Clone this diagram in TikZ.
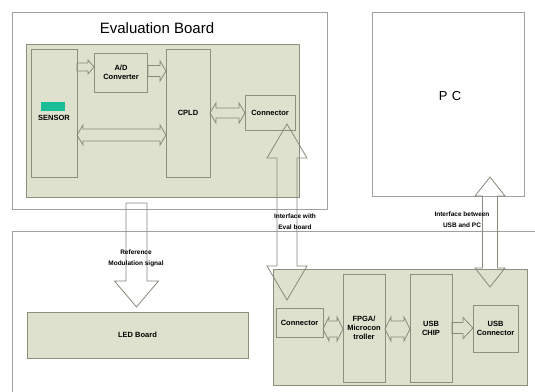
\documentclass[tikz,border=0pt]{standalone}
\usepackage{fontspec}
\setmainfont{Liberation Sans}
\usetikzlibrary{calc}
\definecolor{boardgreen}{RGB}{221,225,205}
\definecolor{boxline}{RGB}{140,143,122}
\definecolor{outerline}{RGB}{160,160,160}
\definecolor{arrowline}{RGB}{135,138,125}
\definecolor{teal}{RGB}{26,190,150}
\tikzset{
  outerbox/.style={draw=outerline, line width=0.8pt, fill=white},
  board/.style={draw=boxline, line width=0.8pt, fill=boardgreen},
  block/.style={draw=boxline, line width=0.9pt, fill=boardgreen, font=\fontsize{7.5}{9}\selectfont\bfseries, align=center},
  fat/.style={draw=arrowline, line width=0.8pt, line join=miter},
  lbl/.style={font=\fontsize{6.5}{8}\selectfont\bfseries, align=center, inner sep=0pt},
}
% horizontal double arrow: x1 x2 y shafthalf headhalf headlen
\newcommand\hdarrow[6]{\draw[fat] (#1,#3) -- (#1+#6,#3-#5) -- (#1+#6,#3-#4) -- (#2-#6,#3-#4) -- (#2-#6,#3-#5) -- (#2,#3) -- (#2-#6,#3+#5) -- (#2-#6,#3+#4) -- (#1+#6,#3+#4) -- (#1+#6,#3+#5) -- cycle;}
% horizontal single arrow (to the right)
\newcommand\hsarrow[6]{\draw[fat] (#1,#3-#4) -- (#2-#6,#3-#4) -- (#2-#6,#3-#5) -- (#2,#3) -- (#2-#6,#3+#5) -- (#2-#6,#3+#4) -- (#1,#3+#4) -- cycle;}
% vertical double arrow: x y1 y2 shafthalf headhalf headlen
\newcommand\vdarrow[6]{\draw[fat] (#1,#2) -- (#1+#5,#2+#6) -- (#1+#4,#2+#6) -- (#1+#4,#3-#6) -- (#1+#5,#3-#6) -- (#1,#3) -- (#1-#5,#3-#6) -- (#1-#4,#3-#6) -- (#1-#4,#2+#6) -- (#1-#5,#2+#6) -- cycle;}
% vertical single arrow (downwards)
\newcommand\vsarrow[6]{\draw[fat] (#1-#4,#2) -- (#1+#4,#2) -- (#1+#4,#3-#6) -- (#1+#5,#3-#6) -- (#1,#3) -- (#1-#5,#3-#6) -- (#1-#4,#3-#6) -- cycle;}
\begin{document}
\begin{tikzpicture}[x=1pt,y=-1pt]
\useasboundingbox (0,0) rectangle (535,391);
\fill[white] (0,0) rectangle (535,391);
% ---- outer frames
\draw[outerbox] (12,12) rectangle (327,209);
\node[font=\fontsize{15}{17}\selectfont] (evaltitle) at (157,28) {Evaluation Board};
\draw[outerbox] (372,12) rectangle (524,196);
\node[font=\fontsize{13}{15}\selectfont] (pc) at (450,96) {P\,\,C};
\draw[outerline, line width=0.8pt, fill=white] (12,395) -- (12,231) -- (540,231) -- (540,395) -- cycle;
% ---- evaluation board
\draw[board] (26,44) rectangle (299,197);
\draw[block] (31,49) rectangle (77,177);
\fill[teal] (41,102) rectangle (65,111);
\node[block, draw=none, fill=none, inner sep=0pt] (sensor) at (54,118) {SENSOR};
\node[block, minimum width=53pt, minimum height=39pt, inner sep=0pt] (adc) at (121,72.5) {A/D\\Converter};
\node[block, minimum width=44pt, minimum height=128pt, inner sep=0pt] (cpld) at (188,113) {CPLD};
\node[block, minimum width=50pt, minimum height=35pt, inner sep=0pt] (conn1) at (270,113) {Connector};
% eval arrows
\hsarrow{77}{94}{67}{4}{7}{6}
\hsarrow{148}{166}{71}{5.5}{10}{6}
\hdarrow{77}{166}{135}{6}{10}{6}
\hdarrow{210}{245}{113}{5}{10}{6}
% ---- lower board
\draw[board] (27,312) rectangle (248,358);
\node[block, draw=none, fill=none] (led) at (137.5,335) {LED Board};
\draw[board] (273,269) rectangle (527,385);
\node[block, minimum width=47pt, minimum height=29pt, inner sep=0pt] (conn2) at (299.5,322.5) {Connector};
\node[block, minimum width=42pt, minimum height=108pt, inner sep=0pt] (fpga) at (364,328) {FPGA/\\Microcon\\troller};
\node[block, minimum width=42pt, minimum height=108pt, inner sep=0pt] (usbchip) at (431,328) {USB\\CHIP};
\node[block, minimum width=45pt, minimum height=47pt, inner sep=0pt] (usbconn) at (495.5,328.5) {USB\\Connector};
\hdarrow{323}{343}{329}{8}{12}{6}
\hdarrow{385}{410}{329}{8}{12}{6}
\hsarrow{452}{473}{328}{5.5}{10.5}{10}
% ---- vertical block arrows
\vdarrow{287}{124}{300}{10}{20}{34}
\vdarrow{490}{177}{287}{7.5}{15}{19}
\vsarrow{136.5}{203}{307}{10.5}{22}{26}
% ---- labels
\node[lbl] (ifeval) at (295,221.5) {Interface with\\[3pt]Eval board};
\node[lbl] (ifusb) at (462,219.5) {Interface between\\[3pt]USB and PC};
\node[lbl] (refmod) at (136,258.5) {Reference\\[3pt]Modulation signal};
\end{tikzpicture}
\end{document}
